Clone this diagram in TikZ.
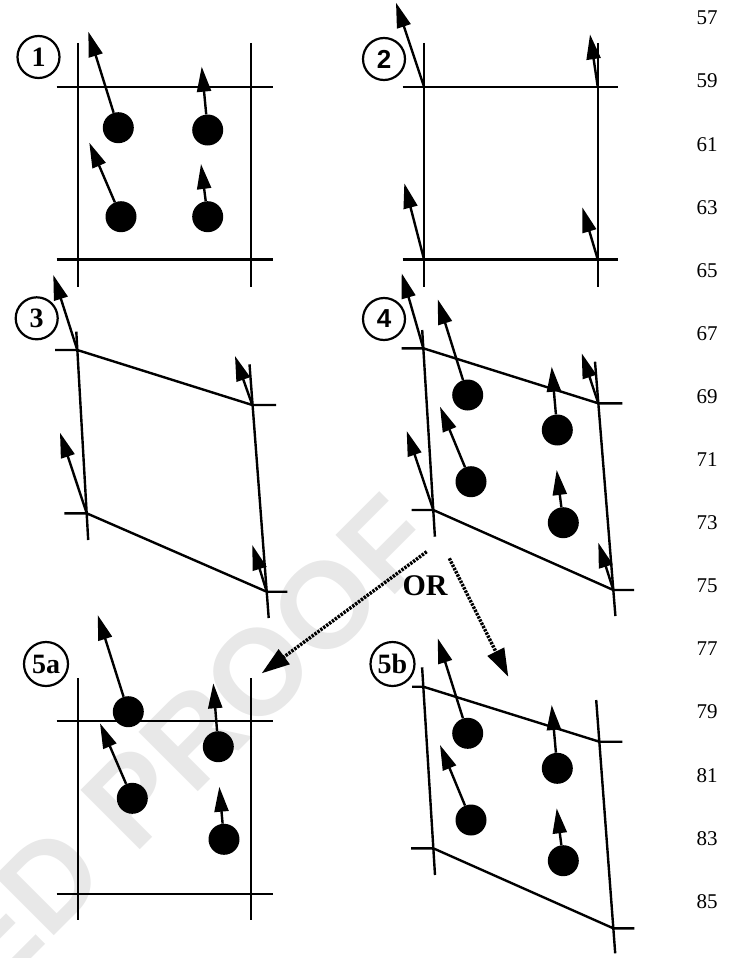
\documentclass[tikz,border=0pt]{standalone}
\usepackage{fontspec}
\setmainfont{Liberation Serif}
\newfontfamily\labsans{Liberation Sans}
\usetikzlibrary{arrows.meta}
\begin{document}
\begin{tikzpicture}[x=1pt,y=-1pt,
  gline/.style={line width=2.4pt},
  vec/.style={line width=2.4pt,-{Triangle[length=25pt,width=14pt]}},
  orarrow/.style={line width=3.4pt,dash pattern=on 2.4pt off 1.2pt,-{Triangle[length=28pt,width=18pt]}},
  particle/.style={circle,fill=black,minimum size=31pt,inner sep=0pt},
  lab/.style={circle,draw,line width=2.2pt,minimum size=42pt,inner sep=0pt,font=\fontsize{28}{28}\selectfont\bfseries},
  num/.style={inner sep=0pt,font=\fontsize{21}{21}\selectfont}]
\useasboundingbox (0,0) rectangle (737,958);
% watermark
\begin{scope}
\clip (0,0) rectangle (737,958);
\node[rotate=45,anchor=base east,inner sep=0pt,text=black!9,font=\labsans\bfseries\fontsize{122}{122}\selectfont] (wm) at (442,548) {UNCORRECTED PROOF};
\end{scope}

% ---------- panel 1 ----------
\node[lab] (L1) at (38.5,57) {1};
\coordinate (p1v1t) at (77.7,43);  \coordinate (p1v1b) at (77.7,287);
\coordinate (p1v2t) at (250.7,43); \coordinate (p1v2b) at (250.7,287);
\coordinate (p1h1l) at (56.7,86.7);  \coordinate (p1h1r) at (272.7,86.7);
\coordinate (p1h2l) at (56.7,259.3); \coordinate (p1h2r) at (272.7,259.3);
\draw[gline] (p1v1t) -- (p1v1b) (p1v2t) -- (p1v2b) (p1h1l) -- (p1h1r) (p1h2l) -- (p1h2r);
\node[particle] (d1a) at (118.3,127.7) {};
\node[particle] (d1b) at (207.7,130) {};
\node[particle] (d1c) at (121,216.7) {};
\node[particle] (d1d) at (207.7,216.7) {};
\coordinate (t1a) at (88.3,31.7);
\coordinate (t1b) at (201.7,66.7);
\coordinate (t1c) at (89.3,142.7);
\coordinate (t1d) at (201,164);
\draw[vec] (d1a) -- (t1a);
\draw[vec] (d1b) -- (t1b);
\draw[vec] (d1c) -- (t1c);
\draw[vec] (d1d) -- (t1d);

% ---------- panel 2 ----------
\node[lab,font=\labsans\bfseries\fontsize{26}{26}\selectfont] (L2) at (384,59) {2};
\coordinate (p2v1t) at (424,43);   \coordinate (p2v1b) at (424,287);
\coordinate (p2v2t) at (597.7,43); \coordinate (p2v2b) at (597.7,287);
\coordinate (p2h1l) at (402.7,86.7);  \coordinate (p2h1r) at (618.3,86.7);
\coordinate (p2h2l) at (402.7,259.3); \coordinate (p2h2r) at (618.3,259.3);
\draw[gline] (p2v1t) -- (p2v1b) (p2v2t) -- (p2v2b) (p2h1l) -- (p2h1r) (p2h2l) -- (p2h2r);
\coordinate (c2a) at (424,86.7);
\coordinate (c2b) at (597.7,86.7);
\coordinate (c2c) at (424,259.3);
\coordinate (c2d) at (597.7,259.3);
\coordinate (t2a) at (396,2.7);
\coordinate (t2b) at (590,34.3);
\coordinate (t2c) at (404.3,183.3);
\coordinate (t2d) at (582.3,207.3);
\draw[vec] (c2a) -- (t2a);
\draw[vec] (c2b) -- (t2b);
\draw[vec] (c2c) -- (t2c);
\draw[vec] (c2d) -- (t2d);

% ---------- panel 3 ----------
\node[lab] (L3) at (36.7,318.3) {3};
\coordinate (c3a) at (77.3,350);
\coordinate (c3b) at (252.3,405);
\coordinate (c3c) at (86.7,513.3);
\coordinate (c3d) at (266.7,591.7);
\coordinate (p3lt) at (76.3,331.7); \coordinate (p3lb) at (88.2,540);
\coordinate (p3rt) at (249.5,364.3); \coordinate (p3rb) at (268.7,618);
\coordinate (p3ka) at (55,350);
\coordinate (p3kb) at (276,405);
\coordinate (p3kc) at (64.3,513.3);
\coordinate (p3kd) at (287.3,591.7);
\draw[gline] (p3lt) -- (p3lb) (p3rt) -- (p3rb) (c3a) -- (c3b) (c3c) -- (c3d)
  (p3ka) -- (c3a) (c3b) -- (p3kb) (p3kc) -- (c3c) (c3d) -- (p3kd);
\coordinate (t3a) at (53.3,275);
\coordinate (t3b) at (235,356);
\coordinate (t3c) at (60,432.7);
\coordinate (t3d) at (252.3,545);
\draw[vec] (c3a) -- (t3a);
\draw[vec] (c3b) -- (t3b);
\draw[vec] (c3c) -- (t3c);
\draw[vec] (c3d) -- (t3d);

% ---------- panel 4 ----------
\node[lab,font=\labsans\bfseries\fontsize{26}{26}\selectfont] (L4) at (384,319) {4};
\coordinate (c4a) at (423.3,348.3);
\coordinate (c4b) at (598.3,403.3);
\coordinate (c4c) at (433.3,510);
\coordinate (c4d) at (613.3,590);
\coordinate (p4lt) at (422.2,330); \coordinate (p4lb) at (434.9,536.7);
\coordinate (p4rt) at (595,361.7); \coordinate (p4rb) at (615.4,616);
\coordinate (p4ka) at (401.7,348.3);
\coordinate (p4kb) at (622.3,403.3);
\coordinate (p4kc) at (411.7,510);
\coordinate (p4kd) at (634,590);
\draw[gline] (p4lt) -- (p4lb) (p4rt) -- (p4rb) (c4a) -- (c4b) (c4c) -- (c4d)
  (p4ka) -- (c4a) (c4b) -- (p4kb) (p4kc) -- (c4c) (c4d) -- (p4kd);
\coordinate (t4a) at (401.7,273.3);
\coordinate (t4b) at (581.7,353.3);
\coordinate (t4c) at (406.7,431);
\coordinate (t4d) at (598.3,542.7);
\draw[vec] (c4a) -- (t4a);
\draw[vec] (c4b) -- (t4b);
\draw[vec] (c4c) -- (t4c);
\draw[vec] (c4d) -- (t4d);
\node[particle] (d4a) at (467.7,395) {};
\node[particle] (d4b) at (557.3,430) {};
\node[particle] (d4c) at (471,481.7) {};
\node[particle] (d4d) at (563.3,522.7) {};
\coordinate (u4a) at (437.7,299.3);
\coordinate (u4b) at (551.7,366.7);
\coordinate (u4c) at (440,406.7);
\coordinate (u4d) at (556.7,470);
\draw[vec] (d4a) -- (u4a);
\draw[vec] (d4b) -- (u4b);
\draw[vec] (d4c) -- (u4c);
\draw[vec] (d4d) -- (u4d);

% ---------- OR arrows ----------
\node[font=\fontsize{30}{30}\selectfont\bfseries,inner sep=0pt] (or) at (425,586) {OR};
\coordinate (oa1) at (426.7,551.7); \coordinate (oa2) at (261.7,673.3);
\coordinate (ob1) at (449.3,558.3); \coordinate (ob2) at (508.3,676.7);
\draw[orarrow] (oa1) -- (oa2);
\draw[orarrow] (ob1) -- (ob2);

% ---------- panel 5a ----------
\node[lab,minimum size=44pt] (L5a) at (46,664) {5a};
\coordinate (p5v1t) at (77.7,678.3);  \coordinate (p5v1b) at (77.7,920);
\coordinate (p5v2t) at (250.7,678.3); \coordinate (p5v2b) at (250.7,920);
\coordinate (p5h1l) at (56.7,721);  \coordinate (p5h1r) at (272.7,721);
\coordinate (p5h2l) at (56.7,894);  \coordinate (p5h2r) at (272.7,894);
\draw[gline] (p5v1t) -- (p5v1b) (p5v2t) -- (p5v2b) (p5h1l) -- (p5h1r) (p5h2l) -- (p5h2r);
\node[particle] (d5a) at (128.3,711.7) {};
\node[particle] (d5b) at (218.3,746.7) {};
\node[particle] (d5c) at (132.3,798.3) {};
\node[particle] (d5d) at (224,839.3) {};
\coordinate (t5a) at (97.7,615);
\coordinate (t5b) at (213.3,683.3);
\coordinate (t5c) at (100,723.3);
\coordinate (t5d) at (219.3,786.7);
\draw[vec] (d5a) -- (t5a);
\draw[vec] (d5b) -- (t5b);
\draw[vec] (d5c) -- (t5c);
\draw[vec] (d5d) -- (t5d);

% ---------- panel 5b ----------
\node[lab,minimum size=44pt] (L5b) at (392.5,664) {5b};
\coordinate (c6a) at (423.3,686.7);
\coordinate (c6b) at (599.3,741.7);
\coordinate (c6c) at (433.3,848.3);
\coordinate (c6d) at (613.3,928.3);
\coordinate (p6lt) at (422.1,667.3); \coordinate (p6lb) at (435,875);
\coordinate (p6rt) at (596.2,700); \coordinate (p6rb) at (615.2,953.3);
\coordinate (p6ka) at (412,686.7);
\coordinate (p6kb) at (622.3,741.7);
\coordinate (p6kc) at (411,848.3);
\coordinate (p6kd) at (634.3,928.3);
\draw[gline] (p6lt) -- (p6lb) (p6rt) -- (p6rb) (c6a) -- (c6b) (c6c) -- (c6d)
  (p6ka) -- (c6a) (c6b) -- (p6kb) (p6kc) -- (c6c) (c6d) -- (p6kd);
\node[particle] (d6a) at (467.7,733.3) {};
\node[particle] (d6b) at (557.3,768.3) {};
\node[particle] (d6c) at (471,820) {};
\node[particle] (d6d) at (563.3,860.7) {};
\coordinate (t6a) at (437.7,638.3);
\coordinate (t6b) at (551.7,705);
\coordinate (t6c) at (440,745);
\coordinate (t6d) at (556.7,808.3);
\draw[vec] (d6a) -- (t6a);
\draw[vec] (d6b) -- (t6b);
\draw[vec] (d6c) -- (t6c);
\draw[vec] (d6d) -- (t6d);

% ---------- line numbers ----------
\foreach \n [count=\i from 0] in {57,59,...,85}
  \node[num] (n\n) at (707,18+63.1*\i) {\n};
\end{tikzpicture}
\end{document}
